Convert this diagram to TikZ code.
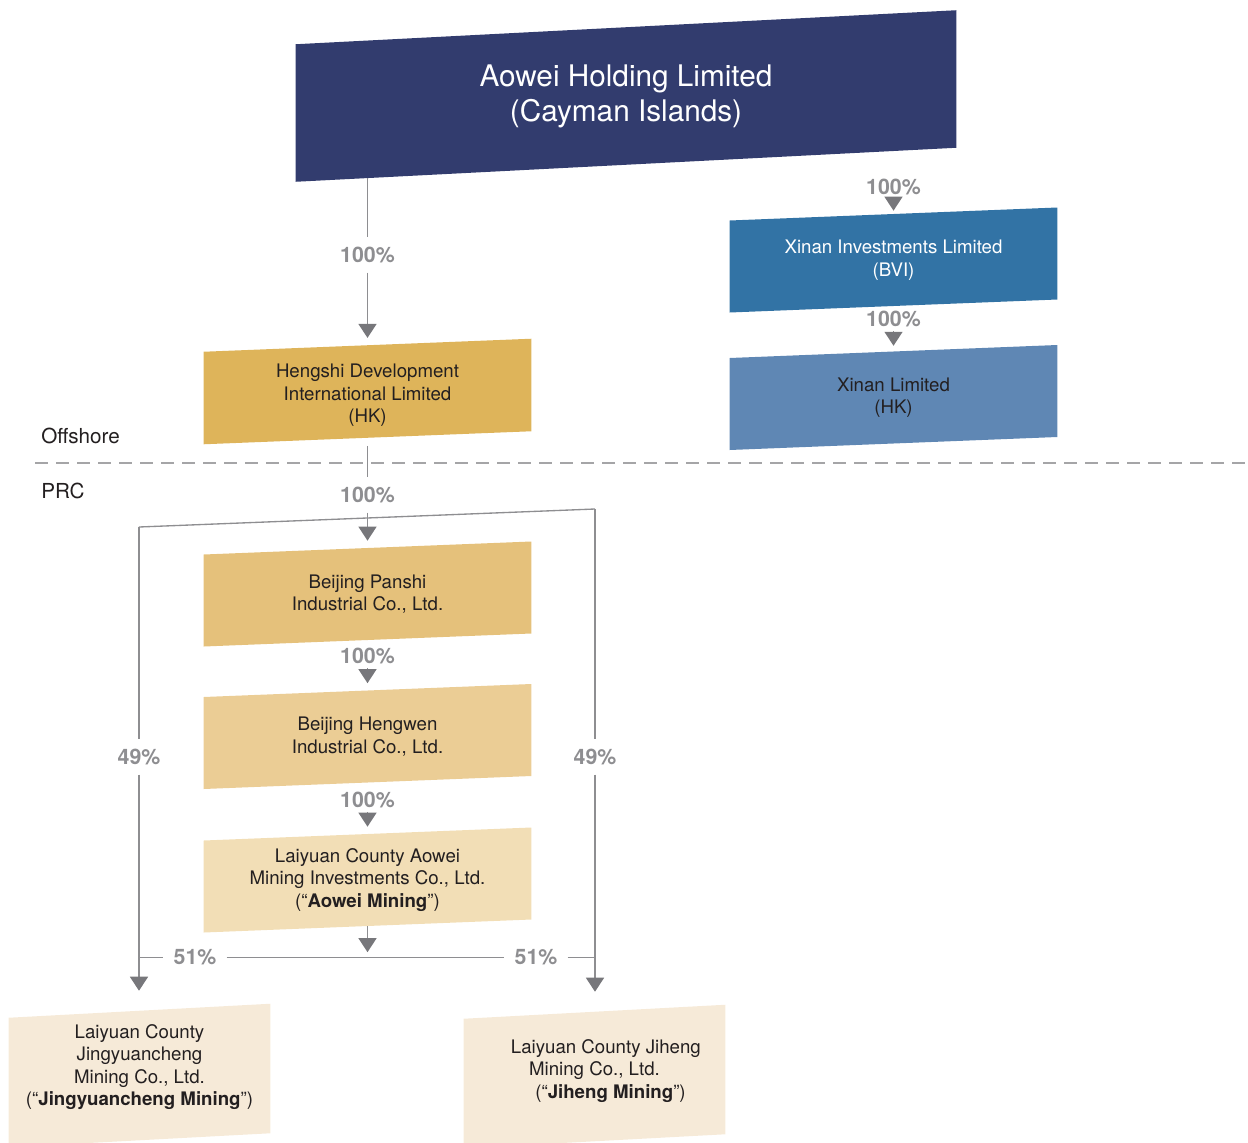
\documentclass[tikz,border=0pt]{standalone}
\usepackage{fontspec}
\setmainfont{TeX Gyre Heros}
\usetikzlibrary{arrows.meta,calc,backgrounds}

\definecolor{holdingblue}{HTML}{323C6E}
\definecolor{bviblue}{HTML}{3273A5}
\definecolor{hkblue}{HTML}{5F87B4}
\definecolor{hengshigold}{HTML}{DEB45A}
\definecolor{panshigold}{HTML}{E5C17B}
\definecolor{hengwengold}{HTML}{EBCD95}
\definecolor{aoweisand}{HTML}{F2DEB6}
\definecolor{minesand}{HTML}{F6EAD8}
\definecolor{textdark}{HTML}{231F20}
\definecolor{linegray}{HTML}{8E8E91}
\definecolor{tipgray}{HTML}{77777B}

% slanted box behind a named node: name, colour, rise, extra depth below
\newcommand{\slantfill}[4]{%
  \fill[#2] ($(#1.north west)+(0,#3)$) -- ($(#1.north east)-(0,#3)$)
    -- ($(#1.south east)-(0,#3)+(0,#4)$) -- ($(#1.south west)+(0,#3)+(0,#4)$) -- cycle;}

\begin{document}
\begin{tikzpicture}[x=0.75pt,y=0.75pt,yscale=-1,xscale=1,
  company/.style={inner sep=0pt, align=center, text=textdark, font=\fontsize{14}{16.8}\selectfont},
  midbox/.style={company, minimum width=245.25pt, minimum height=68.6pt},
  minebox/.style={company, minimum width=195.75pt, minimum height=84pt},
  pct/.style={text=linegray, font=\fontsize{16}{18}\selectfont\bfseries, inner xsep=7.5pt, inner ysep=7pt},
  tippct/.style={pct, inner ysep=3pt},
  region/.style={anchor=west, inner sep=0pt, text=textdark, font=\fontsize{15.5}{18}\selectfont},
  link/.style={draw=linegray, line width=1pt},
  ownarrow/.style={link, -{Triangle[width=13.5pt,length=10.5pt,color=tipgray]}},
  divider/.style={draw=linegray!80, line width=1pt, dash pattern=on 9.75pt off 6pt}]
\useasboundingbox (0,0) rectangle (1248,1142);

% Text Node
\node (holding) at (626,96) [company, text=white, font=\fontsize{22.3}{26.25}\selectfont, minimum width=495pt, minimum height=102.75pt] {Aowei Holding Limited\\(Cayman Islands)};
% Text Node
\node (xinanInv) at (893.5,260) [midbox, text=white] {Xinan Investments Limited\\(BVI)};
% Text Node
\node (xinanHK) at (893.5,397.5) [midbox] {Xinan Limited\\(HK)};
% Text Node
\node (hengshi) at (367.5,395.5) [midbox, minimum height=75pt] {Hengshi Development\\International Limited\\(HK)};
% Text Node
\node (panshi) at (367.5,594) [midbox] {Beijing Panshi\\Industrial Co., Ltd.};
% Text Node
\node (hengwen) at (367.5,736.5) [midbox] {Beijing Hengwen\\Industrial Co., Ltd.};
% Text Node
\node (aoweiMining) at (367.5,880) [midbox] {Laiyuan County Aowei\\Mining Investments Co., Ltd.\\(“\textbf{Aowei Mining}”)};
% Text Node
\node (jingyuan) at (139.5,1067) [minebox] {Laiyuan County\\Jingyuancheng\\Mining Co., Ltd.\\(“\textbf{Jingyuancheng Mining}”)};
% Text Node
\node (jiheng) at (594.5,1071) [minebox, minimum height=88.5pt] {\hspace*{17pt}Laiyuan County Jiheng\\Mining Co., Ltd.\\\hspace*{24pt}(“\textbf{Jiheng Mining}”)};

%Shape: Slanted boxes
\begin{pgfonlayer}{background}
\slantfill{holding}{holdingblue}{17}{0}
\slantfill{xinanInv}{bviblue}{6.5}{0}
\slantfill{xinanHK}{hkblue}{6.5}{0}
\slantfill{hengshi}{hengshigold}{6.5}{-8}
\slantfill{panshi}{panshigold}{6.5}{0}
\slantfill{hengwen}{hengwengold}{6.5}{0}
\slantfill{aoweiMining}{aoweisand}{6.5}{0}
\slantfill{jingyuan}{minesand}{7}{17}
\slantfill{jiheng}{minesand}{7}{11}
\end{pgfonlayer}

% Offshore / PRC
\node (offshore) at (41,436) [region] {Offshore};
\node (prc) at (41,491) [region] {PRC};
\draw[divider] (35,463) -- (1248,463);

% Percentages
\node (p1) at (367.5,255) [pct] {100\%};
\node (p2) at (367.5,495) [pct] {100\%};
\node (p3) at (367.5,656) [tippct] {100\%};
\node (p4) at (367.5,800) [tippct] {100\%};
\node (x1) at (893.5,187) [tippct] {100\%};
\node (x2) at (893.5,319) [tippct] {100\%};
\node (q1) at (139,757) [pct] {49\%};
\node (q2) at (595,757) [pct] {49\%};
\node (s1) at (195,957.5) [pct] {51\%};
\node (s2) at (536,957.5) [pct] {51\%};

\coordinate (holdingFoot) at (367.5,178.3);
\coordinate (brL) at (139,527);
\coordinate (brR) at (595,509);
\coordinate (hL) at (139,957.5);
\coordinate (hR) at (595,957.5);
\coordinate (joint) at (367.5,957.5);

% Ownership lines
\draw[link] (holdingFoot) -- (p1);
\draw[ownarrow, shorten >=5.5pt] (p1) -- (hengshi);
\draw[link] (hengshi) -- (p2);
\draw[ownarrow, shorten >=5.5pt] (p2) -- (panshi);
\draw[ownarrow, shorten >=5.5pt] (p3) -- (hengwen);
\draw[ownarrow, shorten >=5.5pt] (p4) -- (aoweiMining);
\draw[ownarrow, shorten >=2.5pt] (x1) -- (xinanInv);
\draw[ownarrow, shorten >=4.3pt] (x2) -- (xinanHK);

\draw[link] (brL) -- (brR);
\draw[link] (brL) -- (q1);
\draw[ownarrow, shorten >=15pt] (q1) -- (q1 |- jingyuan.north);
\draw[link] (brR) -- (q2);
\draw[ownarrow, shorten >=15pt] (q2) -- (q2 |- jiheng.north);

\draw[ownarrow, shorten >=4pt] (aoweiMining) -- (joint);
\draw[link] (hL) -- (s1) -- (s2) -- (hR);

\end{tikzpicture}
\end{document}
